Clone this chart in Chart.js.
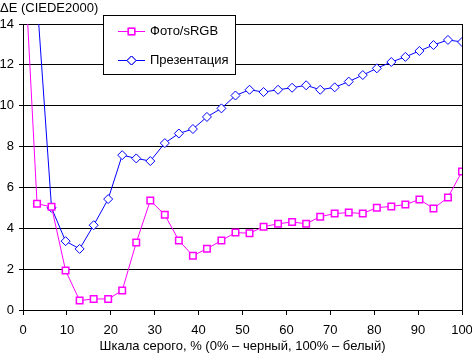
<!DOCTYPE html>
<html>
<head>
<meta charset="utf-8">
<script src="https://cdn.jsdelivr.net/npm/chart.js@4/dist/chart.umd.min.js"></script>
<style>
  html, body { margin: 0; padding: 0; background: #fff; }
  #wrap { width: 472px; height: 353px; }
</style>
</head>
<body>
<div id="wrap"><canvas id="deltaChart" width="472" height="353"></canvas></div>
<script>
// gray level, %
var grayLevels = [0, 3.2, 6.5, 9.7, 12.9, 16.1, 19.4, 22.6, 25.8, 29.0, 32.3, 35.5, 38.7, 41.9, 45.2, 48.4,
    51.6, 54.8, 58.1, 61.3, 64.5, 67.7, 71.0, 74.2, 77.4, 80.6, 83.9, 87.1, 90.3, 93.5, 96.8, 100];
// delta E, photo / sRGB mode
var photoSrgb = [18.5, 5.2, 5.05, 1.93, 0.46, 0.54, 0.54, 0.95, 3.3, 5.36, 4.66, 3.4, 2.66, 3.0, 3.4, 3.79,
    3.76, 4.08, 4.22, 4.31, 4.22, 4.57, 4.72, 4.77, 4.72, 5.01, 5.07, 5.16, 5.41, 4.97, 5.51, 6.78];
// delta E, presentation mode
var presentation = [25, 15.2, 5.0, 3.37, 2.99, 4.15, 5.43, 7.58, 7.42, 7.29, 8.17, 8.64, 8.86, 9.45, 9.87, 10.5,
    10.78, 10.67, 10.78, 10.88, 11.0, 10.78, 10.9, 11.18, 11.5, 11.83, 12.14, 12.39, 12.68, 12.97, 13.22, 13.12];
var seriesNames = ["Фото/sRGB", "Презентация"];
var yTitle = "ΔE (CIEDE2000)";
var xTitle = "Шкала серого, % (0% – черный, 100% – белый)";

var FONT = "'Liberation Sans', Arial, sans-serif";

function toPoints(xs, ys) {
    return xs.map(function (x, i) { return { x: x, y: ys[i] }; });
}

// frame on the right, y title and boxed legend
var extras = {
    id: "extras",
    afterDraw: function (chart) {
        var ctx = chart.ctx, a = chart.chartArea;
        ctx.save();
        ctx.strokeStyle = "#000";
        ctx.lineWidth = 1;
        ctx.beginPath();
        ctx.moveTo(Math.round(a.right) + 0.5, a.top);
        ctx.lineTo(Math.round(a.right) + 0.5, a.bottom);
        ctx.stroke();

        ctx.fillStyle = "#000";
        ctx.font = "13px " + FONT;
        ctx.textBaseline = "middle";
        ctx.textAlign = "left";
        ctx.fillText(yTitle, 0, 8);

        // legend
        ctx.fillStyle = "#fff";
        ctx.fillRect(103.5, 15.5, 132, 59);
        ctx.strokeRect(103.5, 15.5, 132, 59);
        var rows = [31.5, 60.5];
        chart.data.datasets.forEach(function (ds, i) {
            var y = rows[i];
            ctx.strokeStyle = ds.borderColor;
            ctx.lineWidth = 1;
            ctx.beginPath();
            ctx.moveTo(118, y);
            ctx.lineTo(145, y);
            ctx.stroke();
            Chart.helpers.drawPoint(ctx, {
                pointStyle: ds.pointStyle, radius: ds.pointRadius, borderWidth: ds.pointBorderWidth
            }, 131.5, y);
            ctx.fillStyle = "#fff";
            ctx.lineWidth = ds.pointBorderWidth;
            ctx.fill();
            ctx.stroke();
            ctx.fillStyle = "#000";
            ctx.font = "13px " + FONT;
            ctx.fillText(ds.label, 150, y);
        });
        ctx.restore();
    }
};

var ctx = document.getElementById("deltaChart").getContext("2d");
var deltaChart = new Chart(ctx, {
    type: "line",
    data: {
        datasets: [{
            label: seriesNames[0],
            data: toPoints(grayLevels, photoSrgb),
            borderColor: "#ff00ff",
            backgroundColor: "#fff",
            borderWidth: 1,
            pointStyle: "rect",
            pointRadius: 4.6,
            pointBorderWidth: 1.5,
            pointBackgroundColor: "#fff",
            pointBorderColor: "#ff00ff",
            tension: 0
        }, {
            label: seriesNames[1],
            data: toPoints(grayLevels, presentation),
            borderColor: "#0000ff",
            backgroundColor: "#fff",
            borderWidth: 1,
            pointStyle: "rectRot",
            pointRadius: 4.5,
            pointBorderWidth: 1,
            pointBackgroundColor: "#fff",
            pointBorderColor: "#0000ff",
            tension: 0
        }]
    },
    options: {
        responsive: false,
        animation: false,
        devicePixelRatio: 1,
        layout: { padding: { left: 0, right: 10, top: 24, bottom: 0 } },
        plugins: {
            legend: { display: false },
            tooltip: { enabled: false }
        },
        scales: {
            x: {
                type: "linear",
                min: 0,
                max: 100,
                afterFit: function (s) { s.height = 43; s.paddingLeft = 0; s.paddingRight = 0; },
                ticks: { stepSize: 10, color: "#000", padding: 8, maxRotation: 0, font: { family: FONT, size: 13 } },
                grid: { drawOnChartArea: false, drawTicks: true, tickLength: 5, color: "#000" },
                border: { color: "#000" },
                title: { display: true, text: xTitle, color: "#000", padding: { top: 0, bottom: 0 }, font: { family: FONT, size: 13, lineHeight: 1 } }
            },
            y: {
                min: 0,
                max: 14,
                afterFit: function (s) { s.width = 23; },
                ticks: { stepSize: 2, color: "#000", padding: 5, font: { family: FONT, size: 13 } },
                grid: { color: "#000", tickLength: 4 },
                border: { color: "#000" }
            }
        }
    },
    plugins: [extras]
});
</script>
</body>
</html>
